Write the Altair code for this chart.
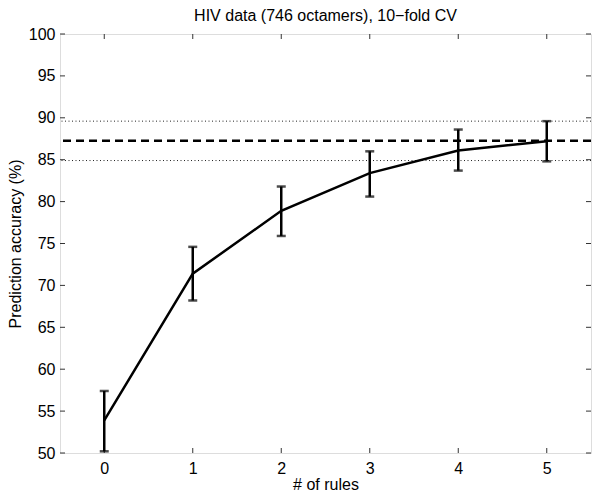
import altair as alt
import pandas as pd

# ---- data ----
rules = [0, 1, 2, 3, 4, 5]
accuracy = [53.9, 71.4, 78.9, 83.4, 86.1, 87.2]
err_low = [50.2, 68.2, 75.9, 80.6, 83.7, 84.8]
err_high = [57.4, 74.6, 81.8, 86.0, 88.6, 89.6]
ref_mean = [87.25]
ref_band = [84.9, 89.6]
x_ticks = [0, 1, 2, 3, 4, 5]
y_ticks = [50, 55, 60, 65, 70, 75, 80, 85, 90, 95, 100]

W, H = 531, 419
FONT = "Liberation Sans"
AX = "#333333"

df = pd.DataFrame({"rules": rules, "acc": accuracy, "lo": err_low, "hi": err_high})
df_mean = pd.DataFrame({"v": ref_mean})
df_band = pd.DataFrame({"v": ref_band})
df_xt = pd.DataFrame({"t": x_ticks})
df_yt = pd.DataFrame({"t": y_ticks})

xscale = alt.Scale(domain=[-0.5, 5.5], nice=False, zero=False)
yscale = alt.Scale(domain=[50, 100], nice=False, zero=False)

xaxis = alt.Axis(values=x_ticks, format="d", grid=False, domain=False, ticks=False,
                 tickSize=0, labelPadding=7, labelFontSize=16, labelColor="black",
                 labelFont=FONT, title="# of rules", titleFont=FONT, titleFontSize=16,
                 titleFontWeight="normal", titleColor="black", titlePadding=0)
yaxis = alt.Axis(values=y_ticks, format="d", grid=False, domain=False, ticks=False,
                 tickSize=0, labelPadding=5, labelFontSize=16, labelColor="black",
                 labelFont=FONT, title="Prediction accuracy (%)", titleFont=FONT,
                 titleFontSize=16, titleFontWeight="normal", titleColor="black",
                 titlePadding=5)

base = alt.Chart(df)

line = base.mark_line(color="black", strokeWidth=2.5).encode(
    x=alt.X("rules:Q", scale=xscale, axis=xaxis),
    y=alt.Y("acc:Q", scale=yscale, axis=yaxis),
)

bars = base.mark_rule(color="black", strokeWidth=2.5).encode(
    x=alt.X("rules:Q", scale=xscale),
    y=alt.Y("lo:Q", scale=yscale),
    y2="hi:Q",
)

cap_lo = base.mark_tick(color="black", orient="horizontal", size=9, thickness=2.5).encode(
    x=alt.X("rules:Q", scale=xscale),
    y=alt.Y("lo:Q", scale=yscale),
)
cap_hi = base.mark_tick(color="black", orient="horizontal", size=9, thickness=2.5).encode(
    x=alt.X("rules:Q", scale=xscale),
    y=alt.Y("hi:Q", scale=yscale),
)

mean_rule = alt.Chart(df_mean).mark_rule(color="black", strokeWidth=2.5, strokeDash=[8, 5]).encode(
    y=alt.Y("v:Q", scale=yscale),
)
band_rule = alt.Chart(df_band).mark_rule(color="#222222", strokeWidth=1, strokeDash=[1, 2.5]).encode(
    y=alt.Y("v:Q", scale=yscale),
)

xt_bottom = alt.Chart(df_xt).mark_rule(color=AX, strokeWidth=1).encode(
    x=alt.X("t:Q", scale=xscale), y=alt.value(H), y2=alt.value(H - 5))
xt_top = alt.Chart(df_xt).mark_rule(color=AX, strokeWidth=1).encode(
    x=alt.X("t:Q", scale=xscale), y=alt.value(0), y2=alt.value(5))
yt_left = alt.Chart(df_yt).mark_rule(color=AX, strokeWidth=1).encode(
    y=alt.Y("t:Q", scale=yscale), x=alt.value(0), x2=alt.value(5))
yt_right = alt.Chart(df_yt).mark_rule(color=AX, strokeWidth=1).encode(
    y=alt.Y("t:Q", scale=yscale), x=alt.value(W), x2=alt.value(W - 5))

chart = alt.layer(
    band_rule, mean_rule, xt_bottom, xt_top, yt_left, yt_right,
    line, bars, cap_lo, cap_hi,
).properties(
    width=W, height=H,
    title=alt.TitleParams("HIV data (746 octamers), 10\u2212fold CV", font=FONT,
                          fontSize=16, fontWeight="normal", color="black",
                          anchor="middle", offset=2),
    autosize=alt.AutoSizeParams(type="none"),
    padding={"left": 52, "top": 26, "right": 1, "bottom": 41},
).configure_view(
    stroke=AX, strokeWidth=1
).configure(background="white")

chart.save("out.html", embed_options={"renderer": "svg", "actions": False})
